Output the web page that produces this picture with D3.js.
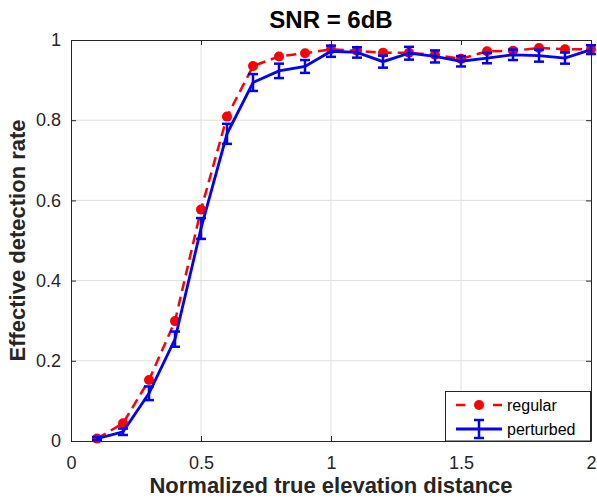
<!DOCTYPE html>
<html lang="en">
<head>
  <meta charset="UTF-8">
  <title>SNR = 6dB</title>
  <script src="https://d3js.org/d3.v7.min.js"></script>
  <style>
    body { margin: 0; background: #fff; }
    svg { display: block; font-family: "Liberation Sans", Arial, sans-serif; }
    .tick text { font-size: 18px; fill: #262626; }
  </style>
</head>
<body>
  <svg width="597" height="502"></svg>
  <script>
    // chart data
    const distances = [0.1, 0.2, 0.3, 0.4, 0.5, 0.6, 0.7, 0.8, 0.9, 1.0,
                       1.1, 1.2, 1.3, 1.4, 1.5, 1.6, 1.7, 1.8, 1.9, 2.0];
    const regular = [0.006, 0.044, 0.152, 0.299, 0.577, 0.809, 0.935, 0.959, 0.967, 0.977,
                     0.973, 0.968, 0.968, 0.963, 0.953, 0.972, 0.973, 0.980, 0.977, 0.977];
    const perturbed = [0.006, 0.023, 0.119, 0.254, 0.530, 0.766, 0.894, 0.923, 0.934, 0.972,
                       0.969, 0.946, 0.967, 0.959, 0.947, 0.955, 0.963, 0.961, 0.955, 0.976];
    const perturbedErr = [0.004, 0.008, 0.017, 0.019, 0.026, 0.025, 0.021, 0.018, 0.016, 0.014,
                          0.013, 0.015, 0.016, 0.015, 0.013, 0.013, 0.013, 0.015, 0.014, 0.011];
    const xTicks = [0, 0.5, 1, 1.5, 2];
    const yTicks = [0, 0.2, 0.4, 0.6, 0.8, 1];

    const svg = d3.select("svg");
    const mLeft = 71, mRight = 591, mTop = 40, mBottom = 441;

    const x = d3.scaleLinear().domain([0, 2]).range([mLeft, mRight]);
    const y = d3.scaleLinear().domain([0, 1]).range([mBottom, mTop]);

    // grid
    const grid = svg.append("g");
    grid.selectAll(".gx").data(xTicks.slice(1, -1)).join("line")
      .attr("x1", d => x(d)).attr("x2", d => x(d))
      .attr("y1", mTop).attr("y2", mBottom)
      .attr("stroke", "#dfdfdf").attr("stroke-width", 1);
    grid.selectAll(".gy").data(yTicks.slice(1, -1)).join("line")
      .attr("x1", mLeft).attr("x2", mRight)
      .attr("y1", d => y(d)).attr("y2", d => y(d))
      .attr("stroke", "#dfdfdf").attr("stroke-width", 1);

    // axes (ticks inside, box on)
    const axisStyle = g => {
      g.select(".domain").attr("stroke", "#262626");
      g.selectAll(".tick line").attr("stroke", "#262626");
    };
    svg.append("g").attr("transform", `translate(0,${mBottom})`)
      .call(d3.axisBottom(x).tickValues(xTicks).tickFormat(d3.format("")).tickSizeInner(-5).tickSizeOuter(0).tickPadding(15))
      .call(axisStyle);
    svg.append("g").attr("transform", `translate(0,${mTop})`)
      .call(d3.axisTop(x).tickValues(xTicks).tickFormat("").tickSizeInner(-5).tickSizeOuter(0))
      .call(axisStyle);
    svg.append("g").attr("transform", `translate(${mLeft},0)`)
      .call(d3.axisLeft(y).tickValues(yTicks).tickFormat(d3.format("")).tickSizeInner(-5).tickSizeOuter(0).tickPadding(10))
      .call(axisStyle);
    svg.append("g").attr("transform", `translate(${mRight},0)`)
      .call(d3.axisRight(y).tickValues(yTicks).tickFormat("").tickSizeInner(-5).tickSizeOuter(0))
      .call(axisStyle);

    const plot = svg.append("g");

    // regular: red dashed with dots
    const seriesLine = d3.line().x((d, i) => x(distances[i])).y(d => y(d));
    plot.append("path").datum(regular)
      .attr("d", seriesLine)
      .attr("fill", "none").attr("stroke", "#ff0000")
      .attr("stroke-width", 2.5).attr("stroke-dasharray", "10,6");
    plot.selectAll(".dot").data(regular).join("circle")
      .attr("cx", (d, i) => x(distances[i])).attr("cy", d => y(d))
      .attr("r", 5).attr("fill", "#ff0000");

    // perturbed: blue solid with error bars
    plot.append("path").datum(perturbed)
      .attr("d", seriesLine)
      .attr("fill", "none").attr("stroke", "#0000ff").attr("stroke-width", 2.8);
    const eb = plot.selectAll(".eb").data(perturbed).join("g")
      .attr("stroke", "#0000ff").attr("stroke-width", 2.5);
    eb.append("line")
      .attr("x1", (d, i) => x(distances[i])).attr("x2", (d, i) => x(distances[i]))
      .attr("y1", (d, i) => y(d - perturbedErr[i])).attr("y2", (d, i) => y(d + perturbedErr[i]));
    eb.append("line")
      .attr("x1", (d, i) => x(distances[i]) - 5).attr("x2", (d, i) => x(distances[i]) + 5)
      .attr("y1", (d, i) => y(d - perturbedErr[i])).attr("y2", (d, i) => y(d - perturbedErr[i]));
    eb.append("line")
      .attr("x1", (d, i) => x(distances[i]) - 5).attr("x2", (d, i) => x(distances[i]) + 5)
      .attr("y1", (d, i) => y(d + perturbedErr[i])).attr("y2", (d, i) => y(d + perturbedErr[i]));

    // legend
    const lg = svg.append("g");
    lg.append("rect").attr("x", 445.5).attr("y", 391.5).attr("width", 145).attr("height", 49.5)
      .attr("fill", "#fff").attr("stroke", "#262626").attr("stroke-width", 1);
    lg.append("line").attr("x1", 456).attr("x2", 502).attr("y1", 405).attr("y2", 405)
      .attr("stroke", "#ff0000").attr("stroke-width", 2.5).attr("stroke-dasharray", "9,28");
    lg.append("circle").attr("cx", 479).attr("cy", 405).attr("r", 5).attr("fill", "#ff0000");
    lg.append("line").attr("x1", 456).attr("x2", 502).attr("y1", 429).attr("y2", 429)
      .attr("stroke", "#0000ff").attr("stroke-width", 2.8);
    lg.append("line").attr("x1", 479).attr("x2", 479).attr("y1", 420).attr("y2", 438)
      .attr("stroke", "#0000ff").attr("stroke-width", 2.5);
    [420, 438].forEach(yy => lg.append("line").attr("x1", 474).attr("x2", 484).attr("y1", yy).attr("y2", yy)
      .attr("stroke", "#0000ff").attr("stroke-width", 2.5));
    lg.append("text").attr("x", 507).attr("y", 411).text("regular")
      .attr("font-size", 16).attr("fill", "#000");
    lg.append("text").attr("x", 507).attr("y", 435).text("perturbed")
      .attr("font-size", 16).attr("fill", "#000");

    // titles
    svg.append("text").attr("x", (mLeft + mRight) / 2).attr("y", 28)
      .attr("text-anchor", "middle").attr("font-size", 24).attr("font-weight", "bold")
      .attr("fill", "#000").text("SNR = 6dB");
    svg.append("text").attr("x", (mLeft + mRight) / 2).attr("y", 493)
      .attr("text-anchor", "middle").attr("font-size", 22).attr("font-weight", "bold")
      .attr("fill", "#262626").text("Normalized true elevation distance");
    svg.append("text").attr("transform", `translate(25,${(mTop + mBottom) / 2}) rotate(-90)`)
      .attr("text-anchor", "middle").attr("font-size", 22).attr("font-weight", "bold")
      .attr("fill", "#262626").text("Effective detection rate");
  </script>
</body>
</html>
